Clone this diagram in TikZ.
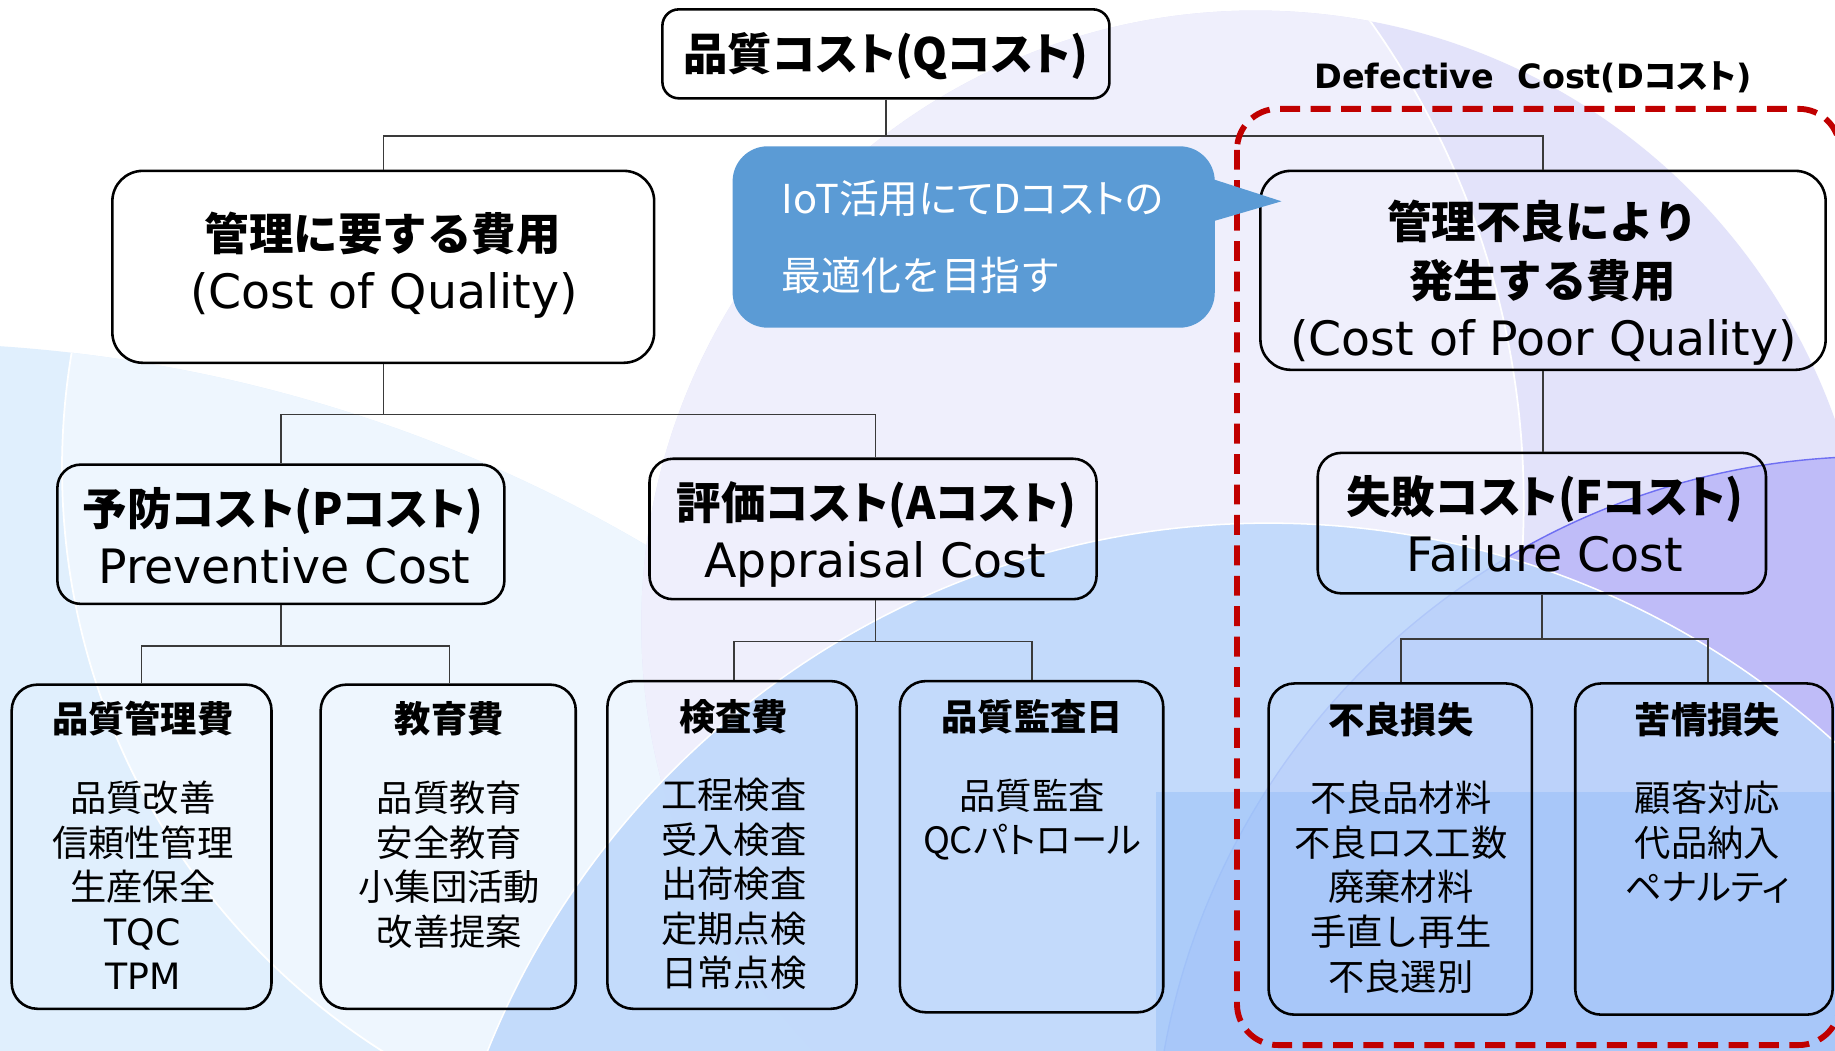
\documentclass[tikz,border=0pt]{standalone}
\usepackage{fontspec}
\setmainfont{DejaVu Sans}
\newfontfamily\jp{Noto Sans CJK JP}
\newfontfamily\jpp[RawFeature=+palt]{Noto Sans CJK JP}
\definecolor{lineg}{HTML}{3A3A3A}
\definecolor{redd}{HTML}{C00000}
\definecolor{callb}{HTML}{5B9BD5}
\definecolor{bgE}{HTML}{E0EFFD}
\definecolor{bgEl}{HTML}{EEF6FE}
\definecolor{bgLd}{HTML}{E3E3FA}
\definecolor{bgLl}{HTML}{EFEFFC}
\definecolor{purp}{HTML}{BFBCF8}
\definecolor{purpl}{HTML}{6F6FF2}
\definecolor{bblue}{HTML}{BCD7FB}
\definecolor{rblue}{HTML}{8AB8F8}
\tikzset{
 bx/.style={draw=black, line width=2.2pt, inner sep=0pt},
 conn/.style={draw=lineg, line width=1.3pt},
 jb/.style={font=\jp\bfseries\fontsize{#1}{#1}\selectfont, anchor=base, inner sep=0pt},
 jpb/.style={font=\jpp\bfseries\fontsize{#1}{#1}\selectfont, anchor=base, inner sep=0pt},
 jr/.style={font=\jp\fontsize{#1}{#1}\selectfont, anchor=base, inner sep=0pt},
 jpr/.style={font=\jpp\fontsize{#1}{#1}\selectfont, anchor=base, inner sep=0pt},
 lr/.style={font=\fontsize{#1}{#1}\selectfont, anchor=base, inner sep=0pt},
 smallbox/.style={bx, rounded corners=22pt},
 midbox/.style={bx, rounded corners=20pt, minimum width=382pt, minimum height=120pt},
}
\begin{document}
\begin{tikzpicture}[x=1pt,y=-1pt]
\useasboundingbox (0,0) rectangle (1568,898);
\clip (0,0) rectangle (1568,898);
\fill[white] (0,0) rectangle (1568,898);
% ---------- background ----------
\fill[bgE] (-85,1552) circle[radius=1259pt];
\begin{scope}
 \clip (-85,1552) circle[radius=1259pt];
 \fill[bgEl] (643,400) circle[radius=590pt];
 \draw[white, line width=1.5pt] (643,400) circle[radius=590pt];
\end{scope}
\fill[bgLd] (1073,534) circle[radius=525pt];
\begin{scope}
 \clip (1073,534) circle[radius=525pt];
 \fill[bgLl] (590,430) circle[radius=712pt];
 \draw[white, line width=1.5pt] (590,430) circle[radius=712pt];
\end{scope}
\fill[purp] (1603,1008) circle[radius=618pt];
\draw[purpl, line width=1.2pt] (1603,1008) circle[radius=618pt];
\fill[bblue, opacity=0.85] (1084,1166) circle[radius=719pt];
\fill[rblue, opacity=0.4] (988,677) rectangle (1568,898);
\draw[white, line width=1.3pt] (1084,1166) circle[radius=719pt];
% ---------- boxes ----------
\node[bx, rounded corners=14pt, minimum width=382pt, minimum height=76pt] (Q) at (757,46) {};
\node[bx, rounded corners=26pt, minimum width=463pt, minimum height=164pt] (COQ) at (327.5,228) {};
\node[bx, rounded corners=26pt, minimum width=483pt, minimum height=170pt] (CPQ) at (1318.5,231) {};
\node[midbox, minimum height=119pt] (P) at (240,456.5) {};
\node[midbox] (A) at (746,452) {};
\node[midbox, minimum width=383pt] (F) at (1317.5,447) {};
\node[smallbox, minimum width=222pt, minimum height=277pt] (b1) at (121,723.5) {};
\node[smallbox, minimum width=218pt, minimum height=277pt] (b2) at (383,723.5) {};
\node[smallbox, minimum width=213pt, minimum height=280pt] (b3) at (625.5,722) {};
\node[smallbox, minimum width=225pt, minimum height=283pt] (b4) at (881.5,723.5) {};
\node[smallbox, minimum width=225pt, minimum height=283pt] (b5) at (1196.5,725.5) {};
\node[smallbox, minimum width=220pt, minimum height=283pt] (b6) at (1456,725.5) {};
% ---------- connectors ----------
\draw[conn] (Q.south) -- ++(0,31) -| (COQ.north);
\draw[conn] (Q.south) -- ++(0,31) -| (CPQ.north);
\draw[conn] (COQ.south) -- ++(0,43) -| (P.north);
\draw[conn] (COQ.south) -- ++(0,43) -| ([xshift=2pt]A.north);
\draw[conn] (CPQ.south) -- (CPQ.south |- F.north);
\draw[conn] (P.south) -- ++(0,35) -| (b1.north);
\draw[conn] (P.south) -- ++(0,35) -| ([xshift=1pt]b2.north);
\draw[conn] ([xshift=2pt]A.south) -- ++(0,35) -| ([xshift=1.5pt]b3.north);
\draw[conn] ([xshift=2pt]A.south) -- ++(0,35) -| ([xshift=0.5pt]b4.north);
\draw[conn] (F.south) -- ++(0,38) -| ([xshift=0.5pt]b5.north);
\draw[conn] (F.south) -- ++(0,38) -| ([xshift=3.5pt]b6.north);
% ---------- red dashed frame ----------
\draw[redd, line width=5pt, dash pattern=on 17pt off 9pt, rounded corners=35pt] (1057,93) rectangle (1572,893);
\node[anchor=base west, inner sep=0pt, font=\bfseries\fontsize{28.6}{28.6}\selectfont] (dlabel) at (1123,76) {Defective\hspace{20pt}Cost(D{\jpp\bfseries コスト})};
% ---------- callout ----------
\node[fill=callb, rounded corners=30pt, minimum width=412pt, minimum height=155pt, inner sep=0pt] (call) at (832,202.5) {};
\fill[callb] (1030,151) -- (1095,172) -- (1030,191) -- cycle;
\node[jpr=34, anchor=base west, text=white] (c1) at (668,182.5) {IoT活用にてDコストの};
\node[jr=34, anchor=base west, text=white] (c2) at (668,248.5) {最適化を目指す};
% ---------- texts ----------
\node[jpb=38] (tQ) at (757,60) {品質コスト(Qコスト)};
\node[jb=38] (tCOQ1) at (327,214) {管理に要する費用};
\node[lr=40.5] (tCOQ2) at (328,263.5) {(Cost of Quality)};
\node[jb=38] (tCPQ1) at (1318,204) {管理不良により};
\node[jb=38] (tCPQ2) at (1318,254) {発生する費用};
\node[lr=40.5] (tCPQ3) at (1319,303.5) {(Cost of Poor Quality)};
\node[jpb=38] (tP1) at (242,449) {予防コスト(Pコスト)};
\node[lr=40.5] (tP2) at (243,498.5) {Preventive Cost};
\node[jpb=38] (tA1) at (749,444) {評価コスト(Aコスト)};
\node[lr=40.5] (tA2) at (748,493.5) {Appraisal Cost};
\node[jpb=38] (tF1) at (1320,439) {失敗コスト(Fコスト)};
\node[lr=40.5] (tF2) at (1320,488.5) {Failure Cost};
% bottom box 1
\node[jb=31] (t1) at (122,626) {品質管理費};
\node[jr=31] (t1a) at (122,693.5) {品質改善};
\node[jr=31] (t1b) at (122,731.5) {信頼性管理};
\node[jr=31] (t1c) at (122,769.5) {生産保全};
\node[lr=31] (t1d) at (122,807.5) {TQC};
\node[lr=31] (t1e) at (122,845.5) {TPM};
% bottom box 2
\node[jb=31] (t2) at (384,626) {教育費};
\node[jr=31] (t2a) at (384,693.5) {品質教育};
\node[jr=31] (t2b) at (384,731.5) {安全教育};
\node[jr=31] (t2c) at (384,769.5) {小集団活動};
\node[jr=31] (t2d) at (384,807.5) {改善提案};
% bottom box 3
\node[jb=31] (t3) at (627,624) {検査費};
\node[jr=31] (t3a) at (627,691) {工程検査};
\node[jr=31] (t3b) at (627,729.5) {受入検査};
\node[jr=31] (t3c) at (627,767) {出荷検査};
\node[jr=31] (t3d) at (627,805) {定期点検};
\node[jr=31] (t3e) at (627,843) {日常点検};
% bottom box 4
\node[jb=31] (t4) at (882,624.5) {品質監査日};
\node[jr=31] (t4a) at (882,691.5) {品質監査};
\node[jpr=31] (t4b) at (882,729.5) {QCパトロール};
% bottom box 5
\node[jb=31] (t5) at (1197,626.5) {不良損失};
\node[jr=31] (t5a) at (1197,693.5) {不良品材料};
\node[jpr=31] (t5b) at (1197,731.5) {不良ロス工数};
\node[jr=31] (t5c) at (1197,769.5) {廃棄材料};
\node[jr=31] (t5d) at (1197,808) {手直し再生};
\node[jr=31] (t5e) at (1197,846.5) {不良選別};
% bottom box 6
\node[jb=31] (t6) at (1459,626.5) {苦情損失};
\node[jr=31] (t6a) at (1459,693.5) {顧客対応};
\node[jr=31] (t6b) at (1459,731.5) {代品納入};
\node[jpr=31] (t6c) at (1459,769.5) {ペナルティ};
\end{tikzpicture}
\end{document}
